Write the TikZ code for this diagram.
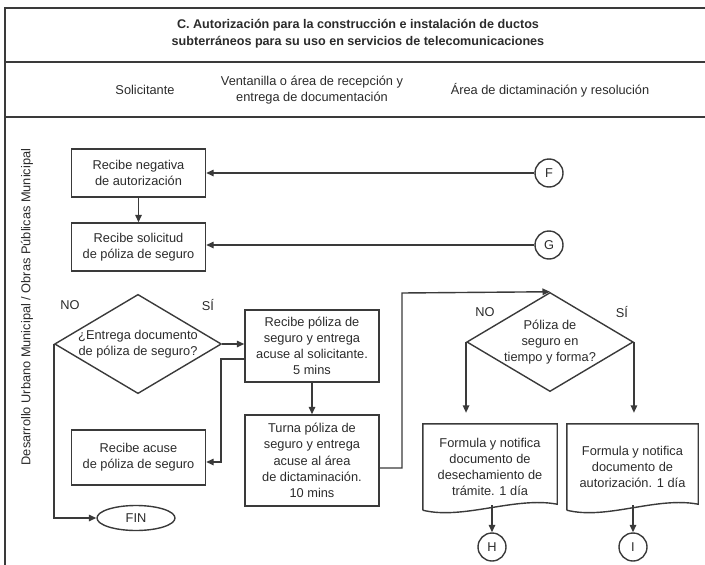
\documentclass[tikz,border=0pt]{standalone}
\usepackage{fontspec}
\setmainfont{Liberation Sans}
\usetikzlibrary{arrows.meta,calc,shapes.geometric}
\definecolor{ink}{HTML}{3A3A3A}
\definecolor{txt}{HTML}{2B2B2B}
\tikzset{
	frame/.style={draw=ink, line width=2pt},
	box/.style={draw=ink, line width=1.4pt, align=center, minimum width=134pt, inner sep=2pt},
	decision/.style={diamond, aspect=1.68, draw=ink, line width=1.4pt, align=center, inner sep=0pt, minimum width=166pt, minimum height=99pt},
	terminal/.style={ellipse, draw=ink, line width=1.4pt, minimum width=78pt, minimum height=25pt, inner sep=0pt},
	conn/.style={circle, draw=ink, line width=1.4pt, minimum size=28pt, inner sep=0pt},
	doc/.style={align=center, inner sep=2pt},
	arr/.style={draw=ink, line width=1.4pt, -{Triangle[length=7.5pt,width=6.5pt]}},
	plain/.style={draw=ink, line width=1.4pt}
}
\def\docshape(#1){\draw[plain] (#1.south west) -- (#1.north west) -- (#1.north east) -- ($(#1.south east)+(0,-6)$) .. controls ($(#1.south east)+(-42,-14)$) and ($(#1.south west)+(40,10)$) .. (#1.south west);}

\begin{document}
\begin{tikzpicture}[x=1pt, y=-1pt, font=\fontsize{12.8}{16.2}\selectfont, text=txt]
		%%%%% START %%%%%
		\useasboundingbox (0,0) rectangle (705,565);
		
		\draw[frame] (5,565) -- (5,8) -- (705,8);
		\draw[frame] (5,62) -- (705,62);
		\draw[frame] (5,117) -- (705,117);
		
		\node[align=center, font=\fontsize{12.6}{17}\selectfont\bfseries] (title) at (358,34) {C. Autorización para la construcción e instalación de ductos\\subterráneos para su uso en servicios de telecomunicaciones};
		
		\node (hsol) at (145,90) {Solicitante};
		\node[align=center] (hven) at (312,90) {Ventanilla o área de recepción y\\entrega de documentación};
		\node (hdic) at (550,90) {Área de dictaminación y resolución};
		
		\node[rotate=90] (lane) at (27,307) {Desarrollo Urbano Municipal / Obras Públicas Municipal};
		
		%% solicitante
		\node[box, minimum height=48pt] (negativa) at (138.5,173) {Recibe negativa\\de autorización};
		\node[box, minimum height=48pt] (solicitud) at (138.5,247) {Recibe solicitud\\de póliza de seguro};
		\node[decision] (entrega) at (138,344) {¿Entrega documento\\de póliza de seguro?};
		\node[box, minimum height=55pt] (acuse) at (138.5,457.5) {Recibe acuse\\de póliza de seguro};
		\node[terminal] (fin) at (136,518) {FIN};
		\node (no1) at (70,305) {NO};
		\node (si1) at (208,305) {SÍ};
		
		%% ventanilla
		\node[box, minimum height=72pt] (recibe) at (312,346) {Recibe póliza de\\seguro y entrega\\acuse al solicitante.\\5 mins};
		\node[box, minimum height=91pt] (turna) at (312,460.5) {Turna póliza de\\seguro y entrega\\acuse al área\\de dictaminación.\\10 mins};
		
		%% dictaminacion
		\node[conn] (F) at (549,173) {F};
		\node[conn] (G) at (549,245) {G};
		\node[decision] (poliza) at (550,342) {Póliza de\\seguro en\\tiempo y forma?};
		\node (no2) at (485,312) {NO};
		\node (si2) at (622,312) {SÍ};
		\node[doc, minimum width=134pt, minimum height=86pt] (deseche) at (490,467) {Formula y notifica\\documento de\\desechamiento de\\trámite. 1 día};
		\node[doc, minimum width=131pt, minimum height=86pt] (autoriza) at (632.5,467) {Formula y notifica\\documento de\\autorización. 1 día};
		\docshape(deseche)
		\docshape(autoriza)
		\node[conn] (H) at (492,547) {H};
		\node[conn] (I) at (633,547) {I};
		
		%% connectors
		\draw[arr] (F) -- (F -| negativa.east);
		\draw[arr] (G) -- (G -| solicitud.east);
		\draw[arr] (negativa) -- (solicitud);
		\draw[arr] (entrega.east) -- (entrega.east -| recibe.west);
		\draw[arr] (entrega.west) |- (fin);
		\draw[arr] (recibe) -- (turna);
		\coordinate (j1) at (221,359);
		\draw[arr] (recibe.west |- j1) -- (j1) |- ($(acuse.east)+(0,4.5)$);
		\coordinate (j2) at (402,293);
		\draw[arr] ($(turna.east)+(0,7.5)$) -| (j2) -- (poliza.north);
		\draw[arr, shorten >=11pt] (poliza.west) -- (poliza.west |- deseche.north);
		\draw[arr, shorten >=11pt] (poliza.east) -- (poliza.east |- autoriza.north);
		\draw[arr] ($(H |- deseche.south)+(0,-5)$) -- (H);
		\draw[arr] ($(I |- autoriza.south)+(0,-5)$) -- (I);
		
		%%%%% END %%%%%
\end{tikzpicture}
\end{document}
